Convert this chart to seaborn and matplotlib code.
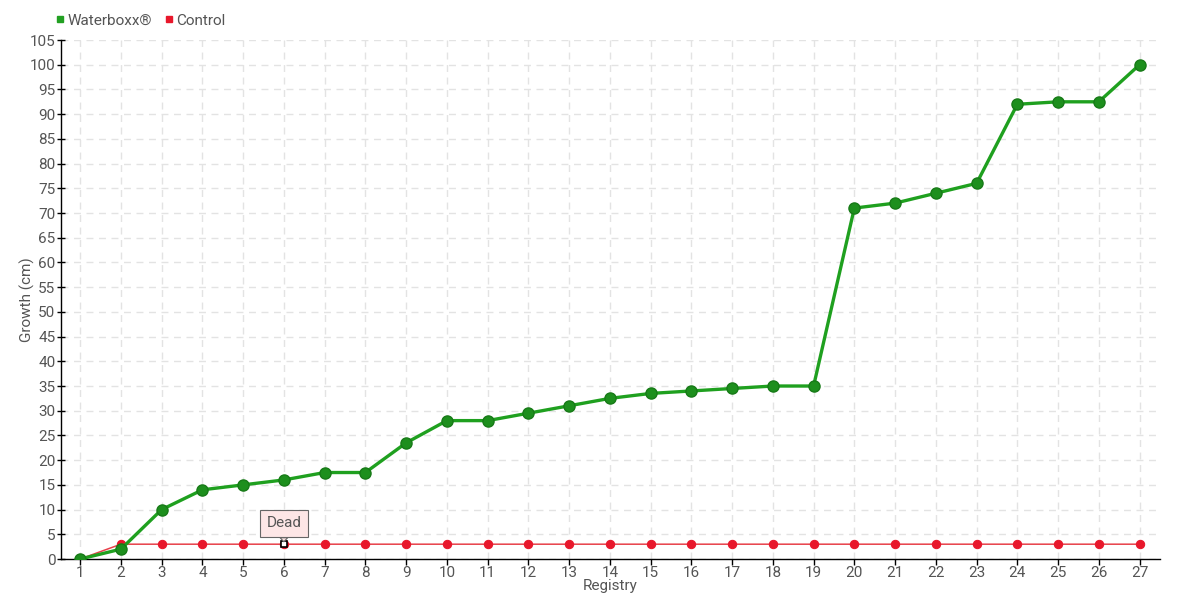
import numpy as np
import pandas as pd
import matplotlib
matplotlib.use("Agg")
import matplotlib.pyplot as plt
from matplotlib.lines import Line2D
import seaborn as sns

# data
registry = [str(i) for i in range(1, 28)]
waterboxx = [0, 2, 10, 14, 15, 16, 17.5, 17.5, 23.5, 28, 28, 29.5, 31, 32.5,
             33.5, 34, 34.5, 35, 35, 71, 72, 74, 76, 92, 92.5, 92.5, 100]
control = [0] + [3] * 26
dead_idx = 5          # registry 6
y_ticks = list(range(0, 106, 5))

GREEN = '#1fa01f'
GREEN_DK = '#1d8f1d'
RED = '#e8404a'
RED_PT = '#e8172b'
TXT = '#555555'

sns.set_theme(style='white')
plt.rcParams['font.family'] = ['Roboto', 'DejaVu Sans']

df = pd.DataFrame({'Registry': registry, 'Waterboxx': waterboxx, 'Control': control})

fig = plt.figure(figsize=(11.8, 6), dpi=100)
ax = fig.add_axes([0.0517, 0.0683, 0.9313, 0.865])

sns.lineplot(data=df, x='Registry', y='Control', ax=ax, color=RED, lw=1.1,
             marker='o', markersize=6, markerfacecolor=RED_PT,
             markeredgecolor=RED_PT, sort=False, zorder=3)
sns.lineplot(data=df, x='Registry', y='Waterboxx', ax=ax, color=GREEN, lw=2.4,
             marker='o', markersize=8, markerfacecolor=GREEN_DK,
             markeredgecolor='#177a17', markeredgewidth=1, sort=False, zorder=4)

# dead marker + callout
ax.plot([registry[dead_idx]], [control[dead_idx]], marker='s', markersize=4.5,
        markerfacecolor='white', markeredgecolor='black', markeredgewidth=1.2,
        zorder=6, ls='none')
ax.annotate('Dead', xy=(dead_idx, control[dead_idx] + 0.5),
            xytext=(dead_idx, 7.2), ha='center', va='center',
            fontsize=11, color=TXT, zorder=7,
            bbox=dict(boxstyle='square,pad=0.45', fc='#fde6e6', ec='#666666', lw=0.8),
            arrowprops=dict(arrowstyle='wedge,tail_width=0.5', fc='#fde6e6',
                            ec='#666666', lw=0.8, shrinkA=0, shrinkB=0))

ax.set_xlim(-0.47, len(registry) - 0.5)
ax.set_ylim(0, 105)
ax.set_yticks(y_ticks)
ax.grid(True, color='#e3e3e3', ls=(0, (5, 4)), lw=1)
for s in ['top', 'right']:
    ax.spines[s].set_visible(False)
for s in ['left', 'bottom']:
    ax.spines[s].set_color('black')
    ax.spines[s].set_linewidth(1)
ax.tick_params(axis='y', direction='inout', length=6, width=1, color='black',
               labelsize=11, labelcolor=TXT, pad=1, left=True)
ax.tick_params(axis='x', direction='out', length=4, width=1, color='black',
               labelsize=11, labelcolor=TXT, pad=1, bottom=True)
ax.set_xlabel('Registry', fontsize=11, color=TXT, labelpad=-1)
ax.set_ylabel('Growth (cm)', fontsize=11, color=TXT)
ax.yaxis.set_label_coords(-0.0235, 0.5)

handles = [Line2D([], [], ls='none', marker='s', markersize=5, color='#22a022'),
           Line2D([], [], ls='none', marker='s', markersize=5, color=RED_PT)]
fig.legend(handles, ['Waterboxx®', 'Control'], loc='upper left',
           bbox_to_anchor=(0.035, 1.0), ncol=2, frameon=False, fontsize=11,
           handlelength=0.6, handletextpad=0.2, columnspacing=0.8,
           labelcolor=TXT)

fig.savefig('out.png', dpi=100)
